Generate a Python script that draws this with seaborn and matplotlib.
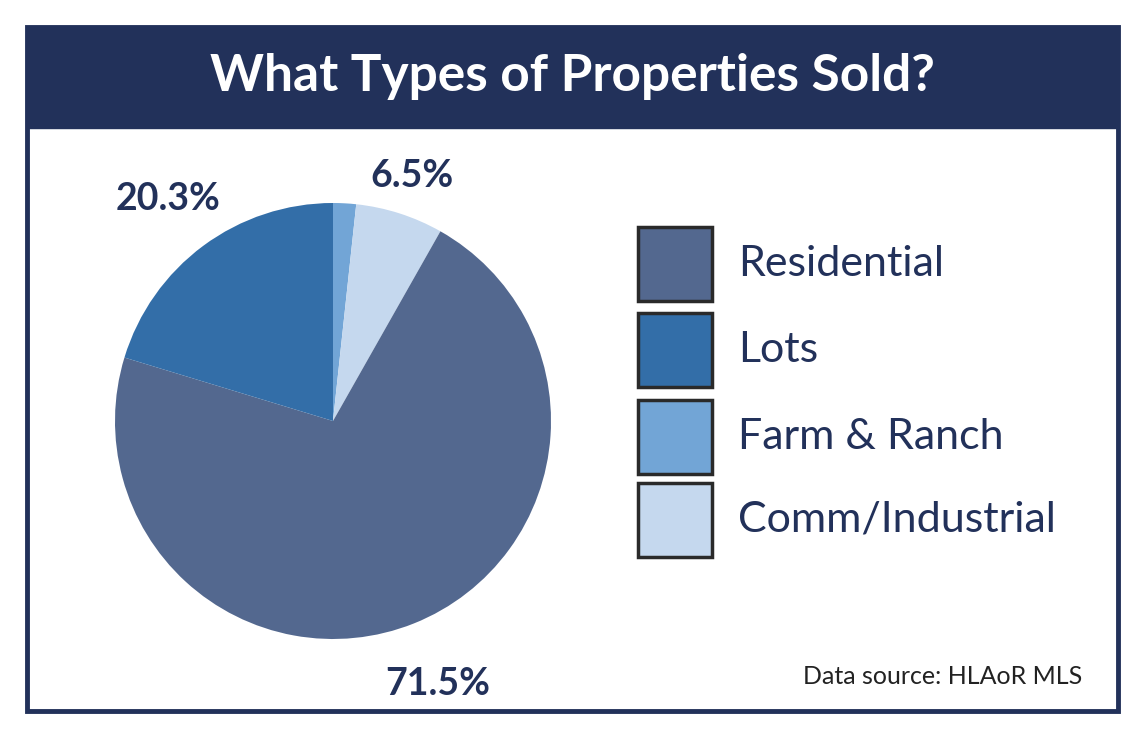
import matplotlib
matplotlib.use("Agg")
import matplotlib.pyplot as plt
import seaborn as sns
import numpy as np
from matplotlib.patches import Rectangle

categories = ["Farm & Ranch", "Comm/Industrial", "Residential", "Lots"]
values = [1.7, 6.5, 71.5, 20.3]
labels = ["", "6.5%", "71.5%", "20.3%"]
legend_order = ["Residential", "Lots", "Farm & Ranch", "Comm/Industrial"]
colors = {"Residential": "#53688f", "Lots": "#336ea8",
          "Farm & Ranch": "#72a5d6", "Comm/Industrial": "#c5d8ee"}
navy = "#22315a"

sns.set_theme(style="white")
W, H = 1140, 751
fig = plt.figure(figsize=(W/100, H/100), dpi=100)
fig.patch.set_facecolor("white")

fig.patches.append(Rectangle((27/W, 1-711/H), (1118-27)/W, (711-27)/H, transform=fig.transFigure,
                             fill=False, edgecolor=navy, linewidth=3.5))
fig.patches.append(Rectangle((27/W, 1-128/H), (1118-27)/W, (128-27)/H, transform=fig.transFigure,
                             facecolor=navy, edgecolor=navy))
fig.text(572/W, 1-76/H, "What Types of Properties Sold?", color="white", fontsize=37,
         fontweight="bold", family="Lato", ha="center", va="center")

cx, cy, r = 333, 421, 218
ax = fig.add_axes([(cx-r)/W, (H-cy-r)/H, 2*r/W, 2*r/H])
pal = [colors[c] for c in categories]
wedges, texts = ax.pie(values, colors=pal, startangle=90, counterclock=False,
                       labels=labels, labeldistance=1.25,
                       wedgeprops=dict(linewidth=0),
                       textprops=dict(fontsize=27, fontweight="bold", color=navy, family="Lato"))
dists = [1.25, 1.18, 1.3, 1.27]
for w, t, d in zip(wedges, texts, dists):
    a = np.deg2rad((w.theta1 + w.theta2) / 2)
    t.set_position((d*np.cos(a), d*np.sin(a)))
    t.set_ha("center"); t.set_va("center")
    t.set_clip_on(False)
ax.set_xlim(-1, 1); ax.set_ylim(-1, 1)
ax.set_aspect("equal")
ax.axis("off")

ys = [264, 350, 437, 520]
for name, y in zip(legend_order, ys):
    fig.patches.append(Rectangle((638/W, 1-(y+37)/H), 74/W, 74/H, transform=fig.transFigure,
                                 facecolor=colors[name], edgecolor="#2a2a2a", linewidth=2.5))
    fig.text(738/W, 1-y/H, name, color=navy, fontsize=31, family="Lato", va="center", ha="left")

fig.text(1082/W, 1-676/H, "Data source: HLAoR MLS", color="#222222", fontsize=18,
         family="Lato", ha="right", va="center")

fig.savefig("out.png", dpi=100)
